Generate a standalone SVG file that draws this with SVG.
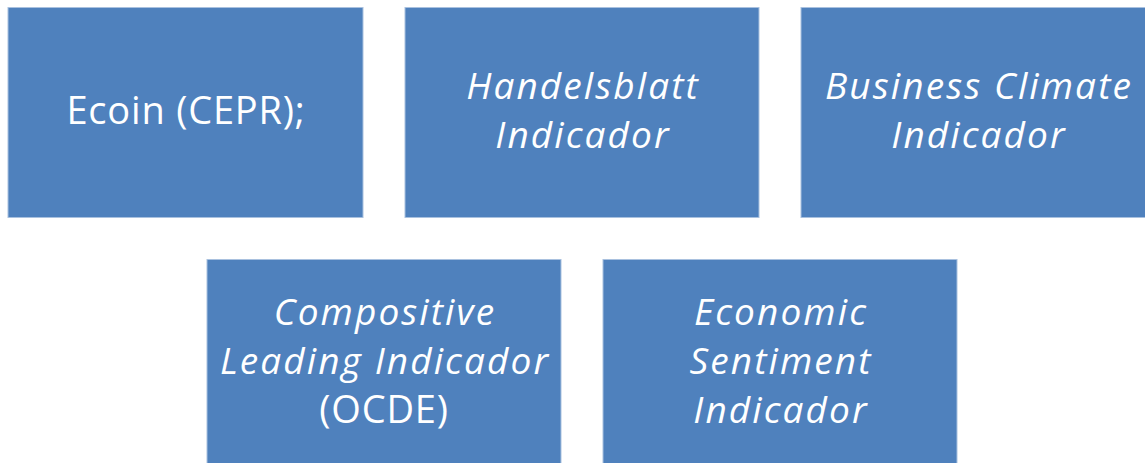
<svg xmlns="http://www.w3.org/2000/svg" width="1145" height="463" viewBox="0 0 1145 463">
  <style>
    .box { fill: #4F81BD; stroke: #A9C1DF; stroke-width: 1; }
    .lbl { fill: #FFFFFF; font-family: "Open Sans", "Liberation Sans", sans-serif; font-size: 38px; text-anchor: middle; letter-spacing: 0.8px; }
    .it { font-size: 37px; font-style: italic; letter-spacing: 2.1px; }
  </style>
  <rect width="1145" height="463" fill="#FFFFFF"/>
  <g id="connectors"/>
  <g id="node-ecoin">
    <rect class="box" x="8" y="7.5" width="355" height="210"/>
    <text class="lbl" x="186" y="124">Ecoin (CEPR);</text>
  </g>
  <g id="node-handelsblatt">
    <rect class="box" x="405" y="7.5" width="354" height="210"/>
    <text class="lbl it" x="583" y="99">Handelsblatt</text>
    <text class="lbl it" x="583" y="148">Indicador</text>
  </g>
  <g id="node-business-climate">
    <rect class="box" x="801" y="7.5" width="355" height="210"/>
    <text class="lbl it" x="979" y="99">Business Climate</text>
    <text class="lbl it" x="979" y="148">Indicador</text>
  </g>
  <g id="node-compositive">
    <rect class="box" x="207" y="259.5" width="354" height="215"/>
    <text class="lbl it" x="385" y="325">Compositive</text>
    <text class="lbl it" x="385" y="374">Leading Indicador</text>
    <text class="lbl" x="384" y="423">(OCDE)</text>
  </g>
  <g id="node-economic-sentiment">
    <rect class="box" x="603" y="259.5" width="354" height="215"/>
    <text class="lbl it" x="781" y="325">Economic</text>
    <text class="lbl it" x="781" y="374">Sentiment</text>
    <text class="lbl it" x="781" y="423">Indicador</text>
  </g>
</svg>
